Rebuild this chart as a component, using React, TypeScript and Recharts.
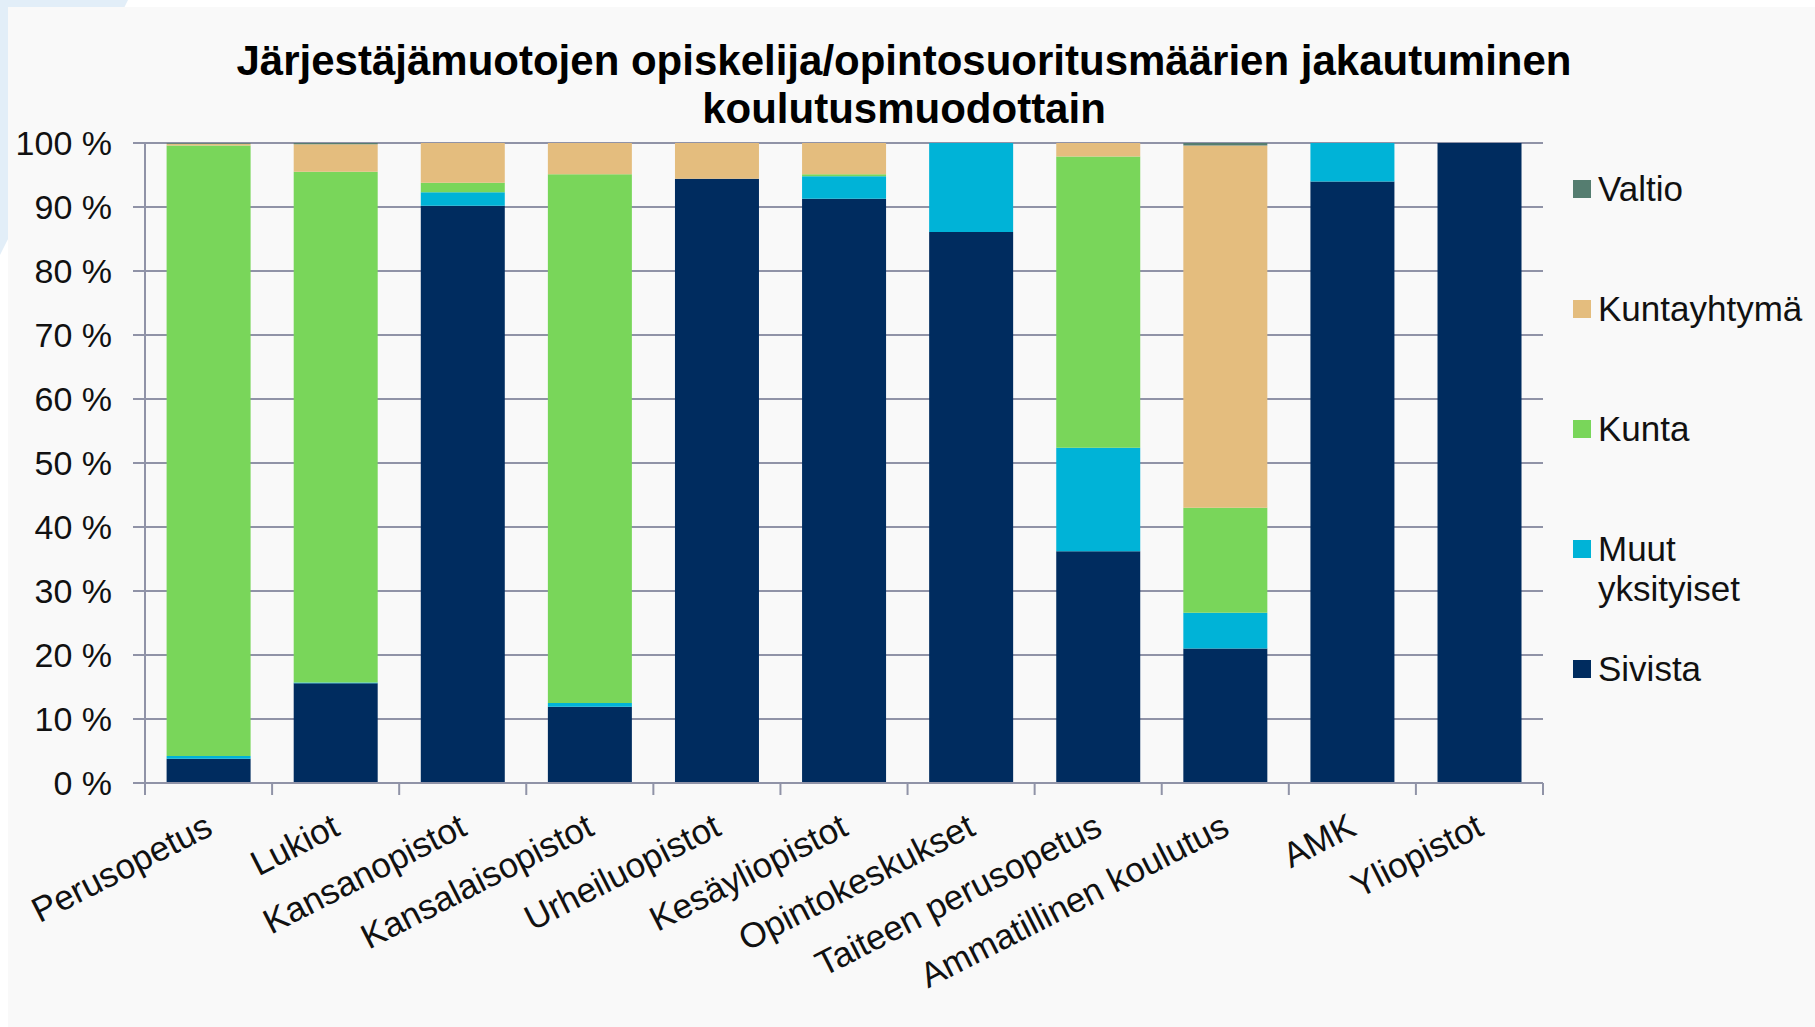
import React from "react";
import { Bar, BarChart, CartesianGrid, Legend, XAxis, YAxis } from "recharts";

const CATEGORIES = [
  "Perusopetus",
  "Lukiot",
  "Kansanopistot",
  "Kansalaisopistot",
  "Urheiluopistot",
  "Kesäyliopistot",
  "Opintokeskukset",
  "Taiteen perusopetus",
  "Ammatillinen koulutus",
  "AMK",
  "Yliopistot",
];

// shares in %, bottom of the stack first
const SIVISTA = [3.8, 15.6, 90.2, 11.9, 94.4, 91.3, 86.1, 36.2, 21.0, 94.0, 100];
const MUUT_YKSITYISET = [0.4, 0.1, 2.1, 0.6, 0, 3.5, 13.9, 16.2, 5.6, 6.0, 0];
const KUNTA = [95.4, 79.8, 1.5, 82.6, 0, 0.3, 0, 45.5, 16.4, 0, 0];
const KUNTAYHTYMA = [0.3, 4.3, 6.2, 4.9, 5.6, 4.9, 0, 2.1, 56.6, 0, 0];
const VALTIO = [0.1, 0.2, 0, 0, 0, 0, 0, 0, 0.4, 0, 0];

const Y_TICKS = [0, 10, 20, 30, 40, 50, 60, 70, 80, 90, 100];

const TITLE_LINES = [
  "Järjestäjämuotojen opiskelija/opintosuoritusmäärien jakautuminen",
  "koulutusmuodottain",
];

const SERIES = [
  { key: "sivista", name: "Sivista", color: "#002C5F", values: SIVISTA },
  { key: "muut", name: "Muut yksityiset", color: "#00B3D7", values: MUUT_YKSITYISET },
  { key: "kunta", name: "Kunta", color: "#79D65A", values: KUNTA },
  { key: "kuntayhtyma", name: "Kuntayhtymä", color: "#E4BD7E", values: KUNTAYHTYMA },
  { key: "valtio", name: "Valtio", color: "#557D70", values: VALTIO },
];

const data = CATEGORIES.map((name, i) => {
  const row: Record<string, string | number> = { name };
  SERIES.forEach((s) => (row[s.key] = s.values[i]));
  return row;
});

const FONT = "'Liberation Sans', Arial, sans-serif";
const GRID = "#9093a7";

const W = 1815;
const H = 1027;
const MARGIN = { top: 143, right: 272, bottom: 0, left: 0 };
const Y_AXIS_W = 145;
const X_AXIS_H = 244;
const BAND = (W - MARGIN.right - MARGIN.left - Y_AXIS_W) / CATEGORIES.length;

// category label plus the Excel-style tick marks on the category edges
function CategoryTick(props: any) {
  const { x, y, payload, index } = props;
  const ax = x + 6;
  const ay = y + 51;
  const left = x - BAND / 2;
  const right = x + BAND / 2;
  return (
    <g>
      <line x1={left} x2={left} y1={y} y2={y + 12} stroke={GRID} strokeWidth={2} />
      {index === CATEGORIES.length - 1 && (
        <line x1={right} x2={right} y1={y} y2={y + 12} stroke={GRID} strokeWidth={2} />
      )}
      <text
        x={ax}
        y={ay}
        textAnchor="end"
        fontSize={35}
        fontFamily={FONT}
        fill="#111"
        transform={`rotate(-27, ${ax}, ${ay})`}
      >
        {payload.value}
      </text>
    </g>
  );
}

function LegendBox() {
  return (
    <div style={{ fontFamily: FONT, fontSize: 35, lineHeight: "40px", color: "#111" }}>
      {[...SERIES].reverse().map((s) => (
        <div key={s.key} style={{ display: "flex", alignItems: "flex-start", height: 120 }}>
          <span
            style={{
              width: 18,
              height: 18,
              marginTop: 11,
              marginRight: 7,
              background: s.color,
              flex: "none",
            }}
          />
          <span style={{ width: 212 }}>{s.name}</span>
        </div>
      ))}
    </div>
  );
}

export default function App() {
  return (
    <div style={{ position: "absolute", left: 0, top: 0, width: W, height: H, background: "#fff" }}>
      <svg width={W} height={H} style={{ position: "absolute", left: 0, top: 0 }}>
        <polygon points="0,0 128,0 0,255" fill="#e2eef8" />
        <rect x={8} y={7} width={W - 8} height={H - 7} fill="#f9f9f9" />
        {TITLE_LINES.map((t, i) => (
          <text
            key={i}
            x={904}
            y={75 + i * 48}
            textAnchor="middle"
            fontFamily={FONT}
            fontWeight="bold"
            fontSize={42}
            fill="#000"
          >
            {t}
          </text>
        ))}
      </svg>
      <div style={{ position: "absolute", left: 0, top: 0 }}>
        <BarChart width={W} height={H} data={data} barCategoryGap="17%" margin={MARGIN}>
          <CartesianGrid vertical={false} stroke={GRID} strokeWidth={2} />
          <YAxis
            width={Y_AXIS_W}
            domain={[0, 100]}
            ticks={Y_TICKS}
            interval={0}
            tickFormatter={(v: number) => `${v} %`}
            tick={{ fontSize: 34, fontFamily: FONT, fill: "#111" }}
            tickSize={12}
            tickMargin={21}
            axisLine={{ stroke: GRID, strokeWidth: 2 }}
            tickLine={{ stroke: GRID, strokeWidth: 2 }}
          />
          <XAxis
            dataKey="name"
            interval={0}
            height={X_AXIS_H}
            axisLine={{ stroke: GRID, strokeWidth: 2 }}
            tickLine={false}
            tickSize={0}
            tickMargin={0}
            tick={<CategoryTick />}
          />
          <Legend
            layout="vertical"
            align="center"
            verticalAlign="middle"
            content={() => <LegendBox />}
            wrapperStyle={{ left: 1573, top: 169, width: 240, height: 600 }}
          />
          {SERIES.map((s) => (
            <Bar
              key={s.key}
              dataKey={s.key}
              name={s.name}
              stackId="a"
              fill={s.color}
              isAnimationActive={false}
            />
          ))}
        </BarChart>
      </div>
    </div>
  );
}
